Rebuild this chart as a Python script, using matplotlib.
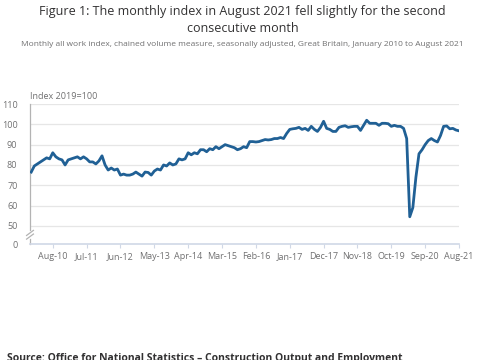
import numpy as np
import pandas as pd
import matplotlib
matplotlib.use("Agg")
import matplotlib.pyplot as plt

plt.rcParams['font.family'] = ['Open Sans', 'DejaVu Sans']

# monthly all work index, Jan 2010 - Aug 2021
months = pd.date_range("2010-01-01", "2021-08-01", freq="MS")
index_2010 = [76.5, 79.5, 80.5, 81.5, 82.5, 83.5, 83, 86, 84, 83, 82.5, 80]
index_2011 = [82.5, 83, 83.5, 84, 83, 84, 83, 81.5, 81.5, 80.5, 82, 84.5]
index_2012 = [80, 77.5, 78.5, 77.5, 78, 75, 75.5, 75, 75, 75.5, 76.5, 75.5]
index_2013 = [74.5, 76.5, 76.3, 75, 77, 78, 77.5, 80, 79.5, 81, 80, 80.5]
index_2014 = [83, 82.5, 83, 86, 85, 86, 85.5, 87.5, 87.5, 86.5, 88, 87.5]
index_2015 = [89, 88, 89, 90, 89.5, 89, 88.5, 87.5, 88, 89, 88.5, 91.5]
index_2016 = [91.5, 91.3, 91.5, 92, 92.5, 92.3, 92.5, 93, 93, 93.5, 93, 95.5]
index_2017 = [97.5, 97.8, 98, 98.5, 97.5, 98, 97, 99, 97.5, 96.5, 98.5, 101.5]
index_2018 = [98, 97.5, 96.5, 96.5, 98.5, 99, 99.3, 98.5, 98.8, 99, 99, 97]
index_2019 = [99.5, 102, 100.5, 100.5, 100.5, 99.5, 100.5, 100.5, 100.3, 99, 99.5, 99]
index_2020 = [99, 98, 93, 54.5, 59, 74, 85.5, 87.5, 90, 92, 93, 92]
index_2021 = [91.3, 94.5, 99, 99.2, 97.8, 98, 97.2, 96.8]

values = (index_2010 + index_2011 + index_2012 + index_2013 + index_2014 + index_2015
          + index_2016 + index_2017 + index_2018 + index_2019 + index_2020 + index_2021)

tick_labels = ["Aug-10", "Jul-11", "Jun-12", "May-13", "Apr-14", "Mar-15", "Feb-16",
               "Jan-17", "Dec-17", "Nov-18", "Oct-19", "Sep-20", "Aug-21"]
ytick_values = [50, 60, 70, 80, 90, 100, 110]

title = "Figure 1: The monthly index in August 2021 fell slightly for the second\nconsecutive month"
subtitle = ("Monthly all work index, chained volume measure, seasonally adjusted, "
            "Great Britain, January 2010 to August 2021")
source = "Source: Office for National Statistics \u2013 Construction Output and Employment"

x = np.arange(len(months))
label_pos = [list(months.strftime("%b-%y")).index(t) for t in tick_labels]

fig = plt.figure(figsize=(4.85, 3.6), dpi=100)
ax = fig.add_axes([30 / 485, 1 - 244 / 360, 429 / 485, 140 / 360])

axis_bottom = 41.1  # where "0" sits below the axis break
ax.set_ylim(axis_bottom, 110)
ax.set_xlim(-0.4, len(months) - 1)

for v in ytick_values:
    ax.axhline(v, color="#e6e6e6", lw=0.9, zorder=0)

ax.plot(x, values, color="#206095", lw=2.0, solid_joinstyle="round", zorder=3)

ax.set_yticks(ytick_values + [axis_bottom])
ax.set_yticklabels([str(v) for v in ytick_values] + ["0"])
ax.tick_params(axis="y", length=0, labelsize=6.5, labelcolor="#707071", pad=9)

ax.set_xticks(label_pos)
ax.set_xticklabels(tick_labels)
ax.tick_params(axis="x", length=3, width=0.8, color="#d0d8e6",
               labelsize=6.5, labelcolor="#707071", pad=3)

for s in ["top", "right", "left"]:
    ax.spines[s].set_visible(False)
ax.spines["bottom"].set_color("#d0d8e6")
ax.spines["bottom"].set_linewidth(1.2)

# left axis with break
yt = ax.get_yaxis_transform()
ax.plot([0, 0], [47.8, 110], color="#b3b3b3", lw=0.9, transform=yt, clip_on=False)
ax.plot([0, 0], [axis_bottom, 43.8], color="#b3b3b3", lw=0.9, transform=yt, clip_on=False)
ax.plot([-0.008, 0.008], [43.5, 46.0], color="#b3b3b3", lw=0.9, transform=yt, clip_on=False)
ax.plot([-0.008, 0.008], [45.3, 47.8], color="#b3b3b3", lw=0.9, transform=yt, clip_on=False)

ax.text(0, 111.5, "Index 2019=100", transform=yt, fontsize=6.5, color="#707071",
        ha="left", va="bottom")

fig.text(0.5, 1 - 5 / 360, title, ha="center", va="top", fontsize=9.0,
         color="#323132", linespacing=1.35)
fig.text(0.5, 1 - 44 / 360, subtitle, ha="center", va="center", fontsize=6.05,
         color="#707071")
fig.text(7 / 485, 1 - 353 / 360, source, ha="left", va="top", fontsize=7.5,
         color="#323132", fontweight="bold")

fig.savefig("out.png", dpi=100)
